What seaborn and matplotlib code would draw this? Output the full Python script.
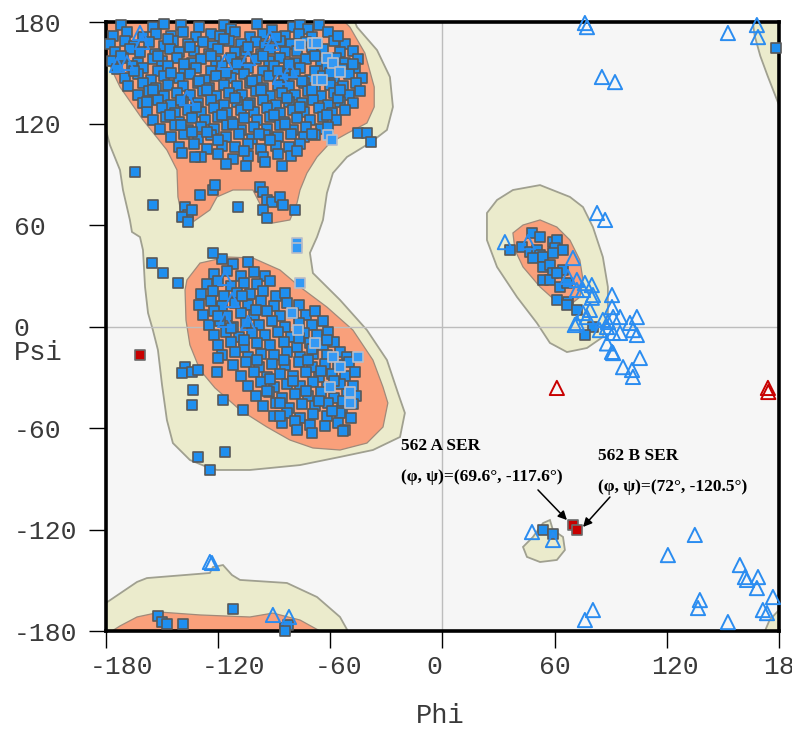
import matplotlib
matplotlib.use("Agg")
import matplotlib.pyplot as plt
import matplotlib.transforms as mtransforms
import pandas as pd
import seaborn as sns

# Region outlines (phi, psi).
allowed_main = [
    (-180, 180), (-46.8, 180), (-45.7, 177), (-35, 163.4), (-28.1, 147.5), (-26.5, 129.8),
    (-29.7, 116.2), (-38.8, 108.5), (-51.1, 100.2), (-58.6, 90.7), (-61.8, 78.9), (-63.9, 63),
    (-67.1, 52.9), (-70.9, 43.5), (-69.3, 31.6), (-54.8, 15.7), (-40.4, -2.1), (-29.7, -19.8),
    (-23.8, -39.3), (-20.1, -51.1), (-22.7, -65.3), (-37.2, -73), (-54.8, -77.1), (-76.2, -81.9),
    (-103, -84.8), (-120.6, -84.8), (-126, -83), (-135.1, -78.9), (-144.2, -68.9), (-147.4, -55.3),
    (-150, -34.6), (-152.2, -13.9), (-154.9, -2.1), (-157.5, 8), (-159.1, 23.4), (-160.2, 45.2),
    (-161.8, 52.9), (-166.1, 55.9), (-167.2, 63), (-170.9, 80.7), (-172.5, 92.5), (-177.9, 107.3),
    (-180, 116.2),
]
allowed_bottom = [
    (-180, -163.4), (-163.4, -151), (-158.1, -148.7), (-124.4, -145.7), (-122.8, -142.2),
    (-117.4, -141), (-112.6, -146.9), (-108.3, -149.8), (-83.2, -151.6), (-67.1, -159.9),
    (-54.8, -171.7), (-50.6, -180), (-180, -180),
]
allowed_gamma = [
    (23.8, 67.1), (29.2, 74.8), (37.7, 80.7), (52.2, 83.6), (68.2, 76.6), (75.2, 70.6),
    (80.5, 58.8), (85.8, 41.1), (88.5, 23.4), (88.5, 8), (85.8, -6.2), (77.3, -12.7),
    (66.6, -15.1), (57.5, -9.7), (50.5, 2.1), (39.9, 17.4), (29.2, 35.2), (23.8, 51.1),
]
allowed_island = [
    (43.1, -130.3), (48.4, -124.4), (53.8, -116.2), (57.5, -114.4), (59.1, -120.3),
    (64.5, -124.4), (65.5, -132.1), (61.2, -138), (52.2, -139.2), (45.2, -136.2),
]
allowed_top_right = [(166, 180), (167, 172), (170, 160), (174, 148), (180, 131), (180, 180)]
allowed_bottom_right = [(172.5, -180), (175, -173.5), (180, -167.6), (180, -180)]

favored_beta = [
    (-180, 180), (-180, 159), (-172.5, 141.6), (-160.2, 122.1), (-147.4, 104.3), (-142, 92.5),
    (-141.5, 76.6), (-139.3, 64.7), (-133.5, 61.8), (-124.4, 68.9), (-120.6, 76.6),
    (-112.1, 80.7), (-101.4, 80.7), (-96, 68.9), (-90.7, 61.2), (-81.6, 63), (-77.8, 73),
    (-76.2, 80.7), (-72.5, 90.7), (-67.1, 100.2), (-60.2, 108.5), (-50.6, 114.4),
    (-40.4, 120.3), (-36.5, 129.8), (-36.5, 141.6), (-41.5, 161.7), (-49.5, 177), (-52.2, 180),
]
favored_alpha = [
    (-136.7, 27.5), (-129.7, 37.5), (-115.3, 41.1), (-101.4, 40.5), (-86.9, 33.4), (-76.2, 23.4),
    (-61.8, 11.5), (-47.9, -2.1), (-37.2, -19.8), (-31.8, -35.8), (-29.2, -45.2), (-31.8, -59.4),
    (-40.4, -68.9), (-54.8, -73), (-69.3, -71.8), (-81.6, -67.1), (-93.9, -59.4), (-108.3, -49.3),
    (-121.7, -36.3), (-129.7, -25.7), (-135.1, -10.9), (-137.2, 3.8), (-137.7, 21.6),
]
favored_gamma = [
    (37.7, 55.3), (43.1, 60), (52.2, 63), (61.2, 58.8), (68.2, 51.1), (73.5, 39.3), (75.2, 27.5),
    (73.5, 17.4), (68.2, 12.7), (61.2, 14.5), (52.2, 23.4), (43.1, 35.2), (38.8, 45.2),
]
favored_bottom = [
    (-180, -180), (-176.8, -180), (-172.5, -177), (-163.4, -171.7), (-151.1, -168.8),
    (-129.7, -170.5), (-103, -171.7), (-90.7, -169.4), (-76.2, -173.5), (-65.5, -180),
]

# Residues (phi, psi).
beta_sq = [
    (-172, 178), (-155, 177), (-149, 179), (-140, 178), (-130, 177), (-117, 178), (-113, 176),
    (-99, 179), (-80, 177), (-76, 178), (-72, 176), (-66, 178),
    (-176, 172), (-169, 174), (-160, 171), (-153, 173), (-145, 172), (-139, 174), (-132, 171),
    (-124, 173), (-119, 172), (-111, 174), (-103, 171), (-96, 173), (-91, 175), (-84, 172),
    (-77, 173), (-70, 171), (-61, 174),
    (-178, 167), (-170, 169), (-165, 166), (-157, 168), (-149, 166), (-144, 169), (-136, 167),
    (-128, 168), (-123, 166), (-114, 169), (-108, 167), (-100, 168), (-95, 166), (-87, 169),
    (-81, 167), (-73, 168), (-67, 166), (-58, 169), (-52, 167),
    (-175, 162), (-167, 164), (-162, 162), (-154, 161), (-146, 164), (-141, 162), (-133, 163),
    (-125, 161), (-120, 164), (-111, 162), (-105, 163), (-97, 161), (-92, 164), (-84, 162),
    (-78, 163), (-69, 161), (-64, 164), (-55, 162), (-48, 163),
    (-177, 157), (-171, 159), (-163, 156), (-155, 158), (-150, 157), (-142, 159), (-134, 156),
    (-129, 158), (-121, 157), (-113, 159), (-108, 156), (-100, 158), (-93, 157), (-87, 159),
    (-79, 156), (-73, 158), (-65, 157), (-57, 159), (-52, 156), (-45, 158),
    (-174, 152), (-166, 154), (-160, 153), (-152, 151), (-147, 154), (-138, 152), (-132, 153),
    (-124, 151), (-118, 154), (-110, 152), (-104, 153), (-96, 151), (-90, 154), (-82, 152),
    (-76, 153), (-68, 151), (-62, 154), (-54, 152), (-47, 153),
    (-170, 147), (-163, 149), (-156, 146), (-149, 148), (-141, 147), (-135, 149), (-127, 146),
    (-121, 148), (-113, 147), (-106, 149), (-99, 146), (-93, 148), (-85, 147), (-79, 149),
    (-71, 146), (-64, 148), (-58, 147), (-50, 149), (-43, 147),
    (-168, 142), (-160, 144), (-153, 141), (-147, 143), (-139, 142), (-131, 144), (-125, 141),
    (-117, 143), (-110, 142), (-103, 144), (-96, 141), (-88, 143), (-82, 142), (-74, 144),
    (-68, 141), (-60, 143), (-53, 142), (-46, 144),
    (-163, 137), (-157, 139), (-149, 136), (-142, 138), (-135, 137), (-128, 139), (-121, 136),
    (-114, 138), (-107, 137), (-100, 139), (-92, 136), (-86, 138), (-79, 137), (-72, 139),
    (-65, 136), (-58, 138), (-50, 137), (-44, 139),
    (-160, 132), (-152, 134), (-145, 131), (-139, 133), (-131, 132), (-124, 134), (-117, 131),
    (-110, 133), (-103, 132), (-96, 134), (-89, 131), (-82, 133), (-75, 132), (-69, 134),
    (-61, 131), (-55, 133), (-48, 132),
    (-158, 127), (-150, 129), (-143, 126), (-136, 128), (-129, 127), (-122, 129), (-115, 126),
    (-108, 128), (-101, 127), (-94, 129), (-87, 126), (-80, 128), (-74, 127), (-66, 129),
    (-59, 126), (-52, 128),
    (-155, 122), (-148, 124), (-141, 121), (-134, 123), (-127, 122), (-120, 124), (-113, 121),
    (-106, 123), (-99, 122), (-92, 124), (-85, 121), (-78, 123), (-71, 122), (-64, 124), (-57, 122),
    (-151, 117), (-143, 119), (-136, 116), (-129, 118), (-122, 117), (-115, 119), (-108, 116),
    (-101, 118), (-94, 117), (-87, 119), (-80, 116), (-73, 118), (-65, 117),
    (-145, 112), (-138, 114), (-131, 111), (-124, 113), (-116, 112), (-109, 114), (-102, 111),
    (-95, 113), (-88, 112), (-81, 114), (-74, 112), (-68, 113),
    (-141, 106), (-133, 108), (-126, 105), (-118, 107), (-111, 106), (-104, 108), (-97, 105),
    (-89, 107), (-82, 106), (-76, 108),
    (-129, 100), (-120, 102), (-112, 99), (-104, 101), (-96, 100), (-88, 102), (-81, 101),
    (-116, 96), (-105, 95), (-95, 97), (-86, 95),
    # fill-in between rows of the dense core
    (-147, 170), (-135, 165), (-117, 170), (-104, 165), (-89, 171), (-70, 165), (-152, 160),
    (-138, 155), (-124, 160), (-110, 155), (-96, 160), (-82, 155), (-68, 160), (-60, 150),
    (-145, 150), (-130, 145), (-116, 150), (-102, 145), (-88, 151), (-75, 145), (-155, 140),
    (-140, 134), (-126, 140), (-111, 135), (-97, 140), (-83, 135), (-70, 140), (-56, 135),
    (-146, 125), (-132, 130), (-118, 125), (-104, 131), (-90, 125), (-76, 130), (-62, 125),
    (-140, 119), (-126, 115), (-112, 120), (-98, 114), (-84, 120), (-70, 114), (-120, 110),
    (-106, 104), (-92, 110), (-78, 104), (-134, 115), (-61, 118), (-165, 151), (-172, 160),
    (-56, 172), (-48, 155), (-55, 140), (-158, 133),
]
alpha_sq = [
    (-118, 40), (-112, 37), (-104, 38),
    (-122, 31), (-115, 33), (-108, 30), (-101, 32), (-95, 30),
    (-126, 25), (-120, 27), (-113, 24), (-106, 26), (-99, 25), (-92, 27),
    (-129, 19), (-123, 21), (-117, 18), (-110, 20), (-103, 19), (-96, 21), (-89, 18), (-84, 20),
    (-130, 13), (-124, 15), (-118, 12), (-111, 14), (-104, 13), (-97, 15), (-90, 12), (-83, 14),
    (-77, 13),
    (-128, 7), (-122, 9), (-115, 6), (-108, 8), (-101, 7), (-94, 9), (-87, 6), (-80, 8), (-73, 7),
    (-68, 9),
    (-125, 1), (-119, 3), (-112, 0), (-105, 2), (-98, 1), (-91, 3), (-84, 0), (-77, 2), (-70, 1),
    (-64, 3),
    (-122, -5), (-116, -3), (-109, -6), (-102, -4), (-95, -5), (-88, -3), (-81, -6), (-74, -4),
    (-67, -5), (-61, -3),
    (-120, -11), (-113, -9), (-106, -12), (-99, -10), (-92, -11), (-85, -9), (-78, -12), (-71, -10),
    (-64, -11), (-58, -9),
    (-118, -17), (-111, -15), (-104, -18), (-97, -16), (-90, -17), (-83, -15), (-76, -18),
    (-69, -16), (-62, -17), (-55, -15), (-51, -18),
    (-112, -23), (-105, -21), (-98, -24), (-91, -22), (-84, -23), (-77, -21), (-70, -24),
    (-63, -22), (-56, -23), (-50, -21),
    (-108, -29), (-101, -27), (-94, -30), (-87, -28), (-80, -29), (-73, -27), (-66, -30),
    (-59, -28), (-52, -29), (-47, -27),
    (-104, -35), (-97, -33), (-90, -36), (-83, -34), (-76, -35), (-69, -33), (-62, -36),
    (-55, -34), (-48, -35),
    (-100, -41), (-93, -39), (-86, -42), (-79, -40), (-72, -41), (-65, -39), (-58, -42),
    (-51, -40), (-46, -41),
    (-96, -47), (-89, -45), (-82, -48), (-75, -46), (-68, -47), (-61, -45), (-54, -48), (-48, -46),
    (-90, -53), (-83, -51), (-76, -54), (-69, -52), (-62, -53), (-55, -51), (-49, -54),
    (-86, -57), (-78, -60), (-71, -58), (-63, -59), (-56, -57), (-52, -61),
    # fill-in of the dense lower band
    (-72, -20), (-65, -26), (-58, -32), (-66, -44), (-59, -50), (-73, -38), (-80, -32),
    (-87, -45), (-94, -38), (-62, -8), (-70, -13), (-77, -7), (-85, -20), (-99, -20),
    (-106, -8), (-113, -1), (-107, 18), (-100, 10), (-120, 6), (-92, -31), (-53, -44),
    (-79, -56), (-70, -63),
]
other_sq = [
    (-164.5, 91.3), (-154.9, 71.8), (-137.7, 70.6), (-136.1, 65.9), (-139.3, 64.7), (-134, 68.9),
    (-136.1, 61.8), (-129.7, 77.7), (-122.8, 80.7), (-121.7, 83.6), (-109.4, 70.6), (-97.6, 82.5),
    (-96, 79.5), (-93.9, 74.8), (-91.2, 73.6), (-86.9, 76.6), (-85.3, 71.8), (-78.9, 68.9),
    (-96, 68.9), (-93.9, 64.1), (-139.3, 102.6), (-132.4, 100.2), (-45.2, 114.4), (-40.4, 114.4),
    (-38.3, 109),
    (-155.6, 37.4), (-149.5, 31.6), (-141.5, 25.7), (-122.8, 43.5), (-137.7, -24), (-139.3, -27.5),
    (-134, -27), (-130.8, -25.7), (-133.5, -37.5), (-134, -46.4), (-120.6, -27), (-120, -18.6),
    (-117.4, -43.4), (-106.7, -49.3), (-130.8, -77.1), (-116.3, -74.2), (-124.4, -84.8),
    (-87, -53), (-78, -61), (-53, -62),
    (47.9, 55.3), (52.2, 52.9), (36.1, 45.2), (42.5, 47), (46.8, 44.1), (50.5, 45.2), (52.2, 42.3),
    (48.4, 40.5), (53.8, 41.1), (59.1, 50), (61.2, 51.1), (60.2, 46.4), (64.5, 45.2), (59, 43.5),
    (53.8, 35.2), (57.5, 36.3), (59.1, 31.6), (53.8, 27.5), (57.5, 27.5), (64.5, 33.4),
    (61.2, 31.6), (62.8, 23.4), (66.6, 25.7), (61.2, 15.7), (67.1, 14.5), (66.6, 12.7),
    (71.9, 9.8), (80.5, -0.3), (76.2, -5),
    (53.8, -120.3), (59.1, -122.6),
    (-152.2, -171.1), (-150, -174.7), (-147.4, -175.8), (-138.8, -175.8), (-112.1, -167),
    (-84.2, -178.2), (-82.6, -176.4), (-84, -180),
    (178.4, 164.6),
]
light_sq = [
    (-76.2, 166.4), (-69.3, 167.6), (-67.1, 167.6), (-61.8, 158.7), (-58.6, 155.8), (-54.8, 150.4),
    (-67.1, 145.7), (-64.4, 145.7), (-61.3, 113.2), (-59.1, 110.3),
    (-77.8, 49.4), (-77.8, 46.4), (-76.2, 25.7), (-45.2, -18),
    (-80.5, 7.9), (-77.3, -2.1), (-68.2, -9.7), (-58.6, -18), (-54.8, -24), (-60.2, -35.8),
    (-49.5, -38.7), (-49.5, -45.2),
]
blue_tri = [
    (-161.8, 173.5), (-160.7, 168.2), (-174.1, 154.6), (-168.8, 155.8), (-92.3, 170.5),
    (-91.2, 167.6), (-116.3, 156.4), (-104, 158.7), (-81.6, 151.6), (-86.9, 147.5), (-136.7, 135.1),
    (-116.3, 28.7), (-112.6, 15.7), (-116.3, 3.9), (-104, 2.1),
    (-124.4, -139.2), (-123.3, -139.8), (-90.7, -170.5), (-82.1, -171.7),
    (33.4, 49.9), (45.7, 49.9), (69.8, 40.5), (67.1, 29.3), (71.9, 27.5), (76.2, 25.7), (79.9, 24.5),
    (71.9, 21.6), (75.2, 21.6), (80.5, 18.6), (79.9, 17), (90.7, 18.6), (82.7, 67.1), (87, 63),
    (90.7, 11.5), (78.9, 9.8), (75.2, 8), (77.3, 5.6), (71.9, 2.1), (70.8, 0.9), (85.8, 3.9),
    (88.5, 2.7), (91.3, 5.6), (95, 5.6), (84.2, -2.1), (88, -0.3), (91.3, -3.8), (95, -3.8),
    (100.3, 2.1), (104, 5.6), (101.9, -2.1), (104, -5), (88, -10), (90.7, -15), (91.3, -15.7),
    (105.6, -18.6), (96.6, -24), (101.4, -25.7), (101.9, -29.8),
    (76.2, 179.4), (77.3, 177), (85.3, 147.5), (92.3, 144.5), (152.7, 173.5), (168.2, 178.2),
    (168.8, 171.1),
    (47.9, -121.5), (59.1, -126.2), (135, -123.2), (120.6, -135.1), (159.1, -141), (161.8, -148.1),
    (162.9, -149.8), (168.8, -148.1), (168.2, -154.6), (176.8, -159.9), (137.7, -161.7),
    (136.7, -166.4), (171.4, -167.6), (173.6, -169.4), (152.7, -174.7), (80.5, -167.6),
    (76.2, -173.5),
]
red_tri = [(61.2, -36.3), (174.1, -36.3), (174.3, -38.7)]
red_sq = [(69.6, -117.6), (72, -120.5), (-161.8, -16.8)]

ticks = [-180, -120, -60, 0, 60, 120, 180]
label_a = ["562 A SER", "(φ, ψ)=(69.6°, -117.6°)"]
label_b = ["562 B SER", "(φ, ψ)=(72°, -120.5°)"]

sns.set_style("ticks")
plt.rcParams["font.family"] = ["Liberation Mono", "DejaVu Sans"]
plt.rcParams["axes.unicode_minus"] = False

fig = plt.figure(figsize=(7.92, 7.29), dpi=100)
ax = fig.add_axes([0.1338, 0.1344, 0.8497, 0.8354])
ax.set_facecolor("#f6f6f6")

for poly in [allowed_main, allowed_bottom, allowed_gamma, allowed_island,
             allowed_top_right, allowed_bottom_right]:
    xs, ys = zip(*poly)
    ax.fill(xs, ys, facecolor="#ebebcc", edgecolor="#a0a090", lw=1.3, zorder=1)
for poly in [favored_beta, favored_alpha, favored_gamma, favored_bottom]:
    xs, ys = zip(*poly)
    ax.fill(xs, ys, facecolor="#f9a07b", edgecolor="#a08a7a", lw=0.9, zorder=1.2)

ax.axhline(0, color="#bdbdbd", lw=1, zorder=2)
ax.axvline(0, color="#bdbdbd", lw=1, zorder=2)


def frame(points):
    return pd.DataFrame(points, columns=["phi", "psi"])


sq_kw = dict(marker="s", s=56, linewidth=1.2, legend=False, clip_on=False, ax=ax)
sns.scatterplot(data=frame(beta_sq + alpha_sq + other_sq), x="phi", y="psi",
                color="#1e8ff0", edgecolor="#585858", zorder=3, **sq_kw)
sns.scatterplot(data=frame(light_sq), x="phi", y="psi",
                color="#3399f5", edgecolor="#b9bdc8", zorder=3.2, **sq_kw)
sns.scatterplot(data=frame(red_sq), x="phi", y="psi",
                color="#c80000", edgecolor="#6a6a6a", zorder=3.4, **sq_kw)
tri_kw = dict(marker="^", s=105, linewidth=1.4, legend=False, clip_on=False, ax=ax)
sns.scatterplot(data=frame(blue_tri), x="phi", y="psi",
                facecolor="none", edgecolor="#2a8cf0", zorder=3.5, **tri_kw)
sns.scatterplot(data=frame(red_tri), x="phi", y="psi",
                facecolor="none", edgecolor="#c80000", zorder=3.5, **tri_kw)

ann_font = dict(family="Liberation Serif", fontweight="bold", fontsize=12.5, color="black",
                ha="left", va="center", zorder=5)
ax.text(-22.2, -70.6, label_a[0], **ann_font)
ax.text(-22.2, -89.0, label_a[1], **ann_font)
ax.text(83.2, -76.5, label_b[0], **ann_font)
ax.text(83.2, -94.9, label_b[1], **ann_font)
arrow = dict(arrowstyle="-|>", color="black", lw=1.1, mutation_scale=13, shrinkA=0, shrinkB=0)
ax.annotate("", xy=(66.6, -114.4), xytext=(51.1, -96.6), arrowprops=arrow, zorder=5)
ax.annotate("", xy=(75.2, -118.5), xytext=(89.6, -100.8), arrowprops=arrow, zorder=5)

ax.set_xlim(-180, 180)
ax.set_ylim(-180, 180)
ax.set_xticks(ticks)
ax.set_yticks(ticks)
ax.set_xticklabels([str(t) for t in ticks])
ax.set_yticklabels([str(t) for t in ticks])
for side in ["left", "right", "top", "bottom"]:
    ax.spines[side].set_linewidth(2.6)
    ax.spines[side].set_color("black")
ax.tick_params(axis="both", direction="out", length=12.5, width=1.0, color="black",
               labelsize=19, labelcolor="#3a3a3a")
ax.tick_params(axis="y", pad=54)
ax.tick_params(axis="x", pad=5)
shift = mtransforms.ScaledTranslation(-16 / 100, 0, fig.dpi_scale_trans)
for tick in ax.xaxis.get_major_ticks():
    tick.label1.set_horizontalalignment("left")
    tick.label1.set_transform(tick.label1.get_transform() + shift)
for tick in ax.yaxis.get_major_ticks():
    tick.label1.set_horizontalalignment("left")

ax.set_xlabel("Phi", fontsize=19.5, color="#3a3a3a", va="center")
ax.xaxis.set_label_coords(0.496, -0.1396)
ax.set_ylabel("Psi", fontsize=19.5, color="#3a3a3a", rotation=0, ha="left", va="center")
ax.yaxis.set_label_coords(-0.1367, 0.4565)

fig.savefig("out.png", dpi=100, facecolor="white")
